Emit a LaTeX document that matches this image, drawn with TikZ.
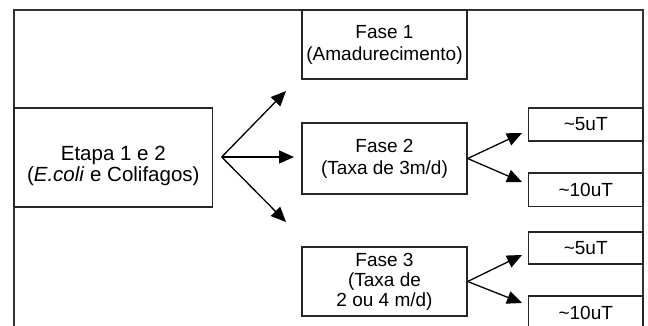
\documentclass[tikz,border=0pt]{standalone}
\usepackage{fontspec}
\setmainfont{Liberation Sans}
\usetikzlibrary{arrows.meta}
\begin{document}
\begin{tikzpicture}[x=1pt,y=-1pt,
  box/.style={draw=black!85, line width=1.3pt, rectangle, inner sep=0pt, align=center, font=\fontsize{19}{22}\selectfont},
  txt/.style={inner sep=0pt, align=center, font=\fontsize{20.5}{21}\selectfont},
  arr/.style={draw=black, line width=1.3pt, -{Triangle[length=15pt,width=13pt]}},
  outerframe/.style={draw=black!80, line width=2.6pt}]
\useasboundingbox (0,0) rectangle (648,326);
\draw[outerframe] (14,10) rectangle (643,345);
% main boxes
\node[box, minimum width=198.7pt, minimum height=99pt] (etapa) at (113.3,157.5) {};
\node[txt] (etapatxt) at (113.3,165.8) {Etapa 1 e 2\\(\textit{E.coli} e Colifagos)};
\node[box, minimum width=165pt, minimum height=69pt] (fase1) at (384.5,44.5) {Fase 1\\(Amadurecimento)};
\node[box, minimum width=165pt, minimum height=71pt] (fase2) at (384.5,158.5) {Fase 2\\(Taxa de 3m/d)};
\node[box, minimum width=165pt, minimum height=69pt, font=\fontsize{19}{20}\selectfont] (fase3) at (384.5,281.5) {Fase 3\\(Taxa de\\2 ou 4 m/d)};
% result boxes
\node[box, minimum width=114.5pt, minimum height=33pt] (r1) at (585.75,124.5) {\textasciitilde5uT};
\node[box, minimum width=114.5pt, minimum height=33.5pt] (r2) at (585.75,189.75) {\textasciitilde10uT};
\node[box, minimum width=114.5pt, minimum height=32pt] (r3) at (585.75,248) {\textasciitilde5uT};
\node[box, minimum width=114.5pt, minimum height=33pt] (r4) at (585.75,312.5) {\textasciitilde10uT};
% arrow ends
\coordinate (e0) at (221.7,157);
\coordinate (t1) at (286,91);
\coordinate (t2) at (294,157);
\coordinate (t3) at (286,222);
\coordinate (a1) at (522,133);
\coordinate (a2) at (522,182);
\coordinate (b1) at (522,255);
\coordinate (b2) at (522,303);
\draw[arr] (e0) -- (t1);
\draw[arr] (e0) -- (t2);
\draw[arr] (e0) -- (t3);
\draw[arr] (fase2.east) -- (a1);
\draw[arr] (fase2.east) -- (a2);
\draw[arr] (fase3.east) -- (b1);
\draw[arr] (fase3.east) -- (b2);
\end{tikzpicture}
\end{document}
